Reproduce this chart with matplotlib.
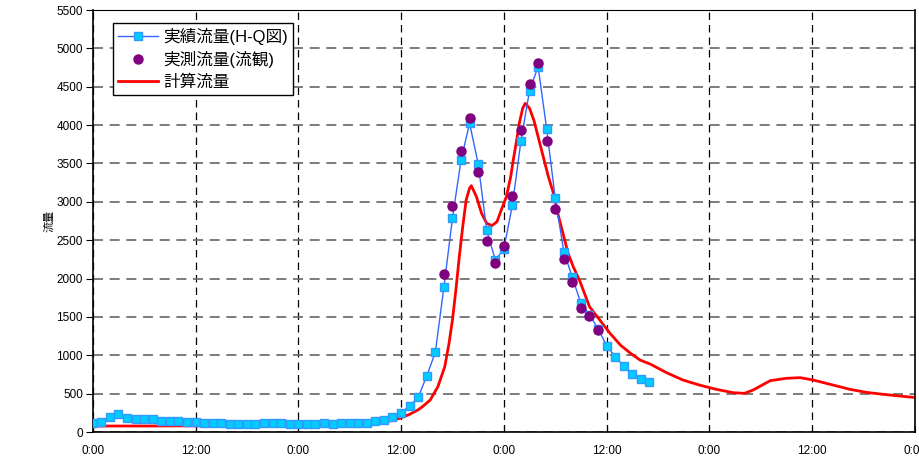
import numpy as np
import matplotlib
matplotlib.use("Agg")
import matplotlib.pyplot as plt

plt.rcParams['font.family'] = ['Liberation Sans', 'Noto Sans CJK JP', 'DejaVu Sans']

# 実績流量(H-Q図): hourly from 0:00
hq_flow = [121, 134, 195, 235, 187, 165, 165, 165, 148, 139, 139, 126, 126, 113, 113, 113,
           109, 100, 100, 109, 113, 113, 113, 109, 109, 109, 109, 113, 109, 113, 113, 117,
           122, 139, 156, 200, 252, 339, 452, 730, 1039, 1886, 2786, 3542, 4024, 3498,
           2630, 2243, 2382, 2960, 3794, 4450, 4763, 3950, 3047, 2351, 2015, 1675, 1530,
           1345, 1125, 982, 860, 751, 686, 655]
hq_hours = list(range(len(hq_flow)))

# 実測流量(流観): hourly, 41h .. 59h
obs_hours = list(range(41, 60))
obs_flow = [2056, 2946, 3667, 4089, 3385, 2494, 2207, 2425, 3077, 3933, 4537, 4815, 3794,
            2903, 2250, 1960, 1621, 1515, 1335]

# 計算流量
calc_hours = [0, 6, 12, 18, 24, 30, 32, 34, 35, 36, 37, 38, 38.5, 39.4, 40.3, 41.1, 41.6,
              42.0, 42.4, 42.8, 43.2, 43.6, 44.0, 44.2, 44.8, 45.4, 46.0, 46.6, 47.2, 47.7,
              48.3, 48.8, 49.1, 49.5, 49.8, 50.2, 50.5, 51.0, 51.5, 52.0, 52.6, 53.2, 53.8,
              54.3, 54.9, 55.5, 56.1, 56.9, 58.0, 59.2, 60.4, 61.6, 62.8, 63.9, 65.1, 67.0,
              68.9, 70.8, 72.8, 74.8, 76.1, 77.1, 79.1, 81.0, 82.6, 84.1, 86.4, 88.4, 90.3,
              92.3, 94.2, 96.0]
calc_flow = [78, 78, 80, 82, 85, 95, 105, 130, 150, 185, 230, 290, 330, 417, 591, 851, 1156,
             1460, 1851, 2285, 2676, 3024, 3177, 3210, 3067, 2850, 2720, 2689, 2741, 2893,
             3067, 3327, 3545, 3806, 4023, 4219, 4284, 4219, 4066, 3849, 3588, 3327, 3111,
             2850, 2590, 2329, 2155, 1960, 1633, 1460, 1286, 1134, 1025, 938, 885, 773,
             678, 613, 556, 512, 504, 547, 669, 700, 708, 678, 613, 556, 517,
             491, 469, 450]

x_ticks = list(range(0, 97, 12))
x_labels = ['0:00', '12:00'] * 4 + ['0:00']

fig = plt.figure(figsize=(9.19, 4.61), dpi=100)
ax = fig.add_axes([0.1009, 0.0629, 0.8947, 0.9154])

ax.plot(hq_hours, hq_flow, color='#3366ff', lw=1.0, marker='s', ms=5.5,
        mfc='#00ccff', mec='#3399ff', mew=1.0, label='実績流量(H-Q図)', zorder=3)
ax.plot(obs_hours, obs_flow, ls='none', marker='o', ms=6.5, color='#800080',
        label='実測流量(流観)', zorder=4)
ax.plot(calc_hours, calc_flow, color='#ff0000', lw=2.0, label='計算流量', zorder=2)

ax.set_xlim(0, 96)
ax.set_ylim(0, 5500)
ax.set_xticks(x_ticks)
ax.set_xticklabels(x_labels)
ax.set_yticks(np.arange(0, 5501, 500))

ax.grid(axis='x', color='black', lw=0.9, ls=(0, (6, 4)))
ax.grid(axis='y', color='#666666', lw=1.2, ls=(0, (6, 4)))
ax.set_axisbelow(True)

ax.tick_params(axis='y', direction='out', length=5, labelsize=8.5, pad=2)
ax.tick_params(axis='x', direction='in', length=4, labelsize=8.5, pad=9)
for s in ['left', 'bottom', 'right']:
    ax.spines[s].set_linewidth(1.2)
ax.spines['top'].set_linewidth(0.8)

ax.set_ylabel('流量', fontsize=8)
ax.yaxis.set_label_coords(-0.046, 0.5)

leg = ax.legend(loc='upper left', bbox_to_anchor=(0.0247, 0.970), borderaxespad=0,
                fontsize=12, frameon=True, fancybox=False, edgecolor='black',
                framealpha=1, handlelength=2.4, handletextpad=0.3, borderpad=0.3,
                labelspacing=0.38)
leg.get_frame().set_linewidth(1.0)

fig.savefig('out.png', dpi=100)
